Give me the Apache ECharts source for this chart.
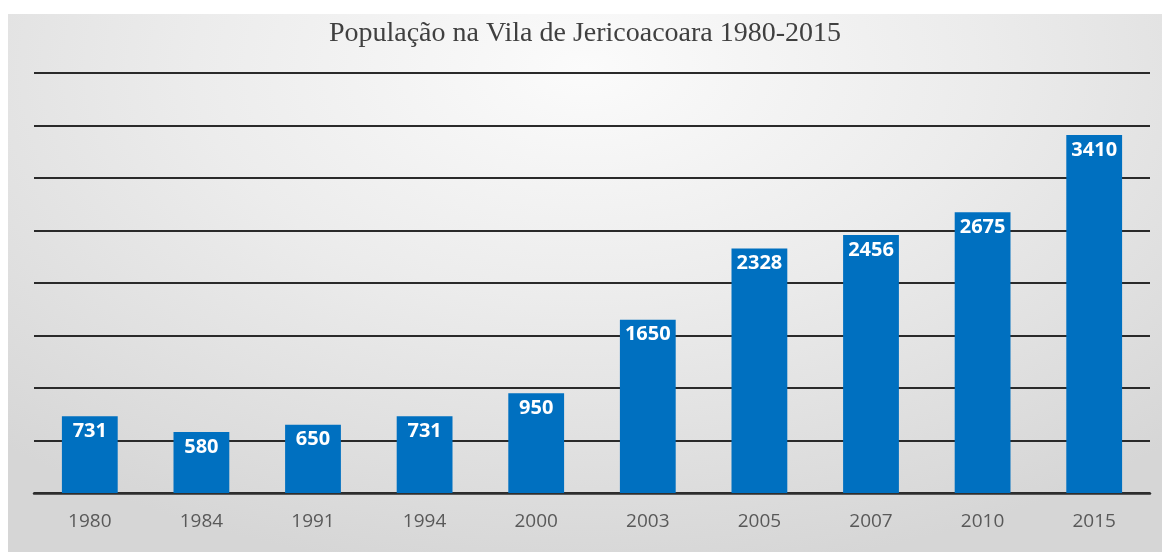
<!DOCTYPE html>
<html>
<head>
<meta charset="utf-8">
<script src="https://cdn.jsdelivr.net/npm/echarts@6/dist/echarts.min.js"></script>
<style>
  html, body { margin: 0; padding: 0; background: #ffffff; }
  #chart {
    position: absolute; left: 8px; top: 14px; width: 1154px; height: 538px;
    background: radial-gradient(ellipse 75% 95% at 50% 10%, #fbfbfb 0%, #ececec 45%, #d6d6d6 100%);
  }
</style>
</head>
<body>
<div id="chart"></div>
<script>
// dados
var anos = ['1980', '1984', '1991', '1994', '2000', '2003', '2005', '2007', '2010', '2015']
var populacao = [731, 580, 650, 731, 950, 1650, 2328, 2456, 2675, 3410]
var titulo = 'População na Vila de Jericoacoara 1980-2015'

var myChart = echarts.init(document.getElementById('chart'))
var option = {
  backgroundColor: 'transparent',
  title: {
    text: titulo,
    left: 'center',
    top: 1,
    textStyle: {
      fontFamily: 'Liberation Serif',
      fontWeight: 'normal',
      fontSize: 28,
      color: '#404040'
    }
  },
  grid: {
    left: 26,
    right: 12,
    top: 59,
    bottom: 59
  },
  xAxis: {
    type: 'category',
    data: anos,
    axisTick: { show: false },
    axisLine: {
      lineStyle: { color: '#2e2e2e', width: 2.5 }
    },
    axisLabel: {
      margin: 19,
      fontFamily: 'Open Sans',
      fontSize: 19,
      color: '#595959'
    }
  },
  yAxis: {
    type: 'value',
    min: 0,
    max: 4000,
    interval: 500,
    axisLine: { show: false },
    axisTick: { show: false },
    axisLabel: { show: false },
    splitLine: {
      lineStyle: { color: '#2a2a2a', width: 2 }
    }
  },
  series: [
    {
      name: 'População',
      type: 'bar',
      barWidth: '50%',
      data: populacao,
      itemStyle: { color: '#0070c0' },
      z: 3,
      label: {
        show: true,
        position: 'insideTop',
        distance: 5,
        color: '#ffffff',
        fontFamily: 'Open Sans',
        fontWeight: 'bold',
        fontSize: 20
      }
    }
  ]
}
myChart.setOption(option)
</script>
</body>
</html>
